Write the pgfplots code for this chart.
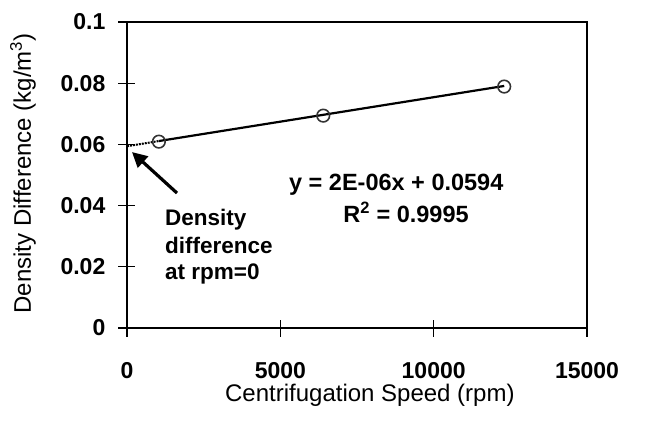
\documentclass[border=0pt]{standalone}
\usepackage{pgfplots}
\pgfplotsset{compat=1.18}
\usetikzlibrary{arrows.meta}
\usepackage{fontspec}
\setmainfont{Liberation Sans}
\begin{document}
\fontsize{21bp}{25bp}\selectfont
\begin{tikzpicture}[x=1bp,y=1bp]
\path[use as bounding box] (-127,-92) rectangle (528,328);
\begin{axis}[
  at={(0,0)}, anchor=south west,
  scale only axis, width=460bp, height=306bp,
  xmin=0, xmax=15000, ymin=0, ymax=0.1,
  scaled ticks=false,
  xtick={0,5000,10000,15000}, xticklabels={0,5000,10000,15000},
  ytick={0,0.02,0.04,0.06,0.08,0.1}, yticklabels={0,0.02,0.04,0.06,0.08,0.1},
  xtick pos=lower, ytick pos=left,
  tick align=center, major tick length=17bp,
  axis line style={line width=1.9bp},
  every tick/.style={black, line width=1.3bp},
  tick label style={font=\fontsize{23bp}{27bp}\selectfont\bfseries},
  xticklabel style={yshift=-19bp},
  yticklabel style={xshift=-6bp},
  label style={font=\fontsize{24bp}{28bp}\selectfont},
  xlabel={Centrifugation Speed (rpm)},
  ylabel={Density Difference (kg/m\textsuperscript{3})},
  xlabel style={at={(axis description cs:0.528,-0.219)}, anchor=center},
  ylabel style={at={(axis description cs:-0.226,0.505)}, anchor=center},
  clip=false,
]
\addplot[black, line width=2.2bp] coordinates {(1040,0.0611) (12300,0.0791)};
\addplot[black, densely dotted, line width=2bp] coordinates {(0,0.0594) (1040,0.0611)};
\addplot[only marks, mark=o, mark size=6.3bp, mark options={draw=black!80, line width=1.6bp}] coordinates {(1040,0.0609) (6400,0.0694) (12300,0.0789)};
\draw[-{Triangle[length=15bp,width=15bp]}, line width=3.2bp, black] (axis cs:1630,0.0441) -- (axis cs:163,0.0575);
\node[anchor=center, font=\fontsize{23.5bp}{28bp}\selectfont\bfseries] at (axis cs:8780,0.0467) {y = 2E-06x + 0.0594};
\node[anchor=center, font=\fontsize{23.5bp}{28bp}\selectfont\bfseries] at (axis cs:9100,0.0379) {R\textsuperscript{2} = 0.9995};
\node[anchor=base west, inner sep=0pt, font=\fontsize{22.5bp}{27bp}\selectfont\bfseries] at (axis cs:1239,0.03366) {Density};
\node[anchor=base west, inner sep=0pt, font=\fontsize{22.5bp}{27bp}\selectfont\bfseries] at (axis cs:1239,0.02451) {difference};
\node[anchor=base west, inner sep=0pt, font=\fontsize{22.5bp}{27bp}\selectfont\bfseries] at (axis cs:1239,0.01569) {at rpm=0};
\end{axis}
\end{tikzpicture}
\end{document}
